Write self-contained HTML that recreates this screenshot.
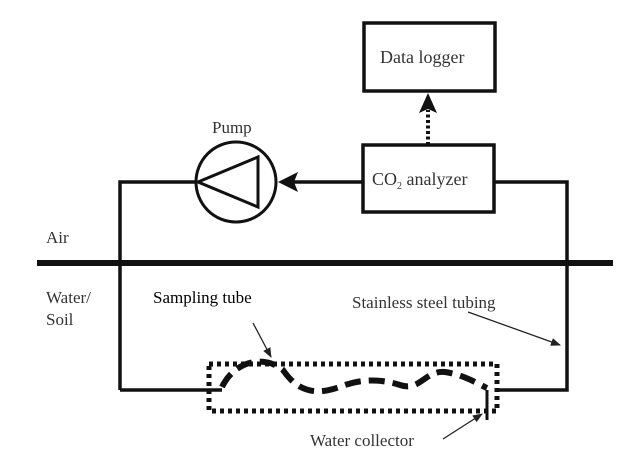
<!DOCTYPE html>
<html><head><style>body{margin:0;background:#fff}svg{display:block}</style></head><body>
<svg width="643" height="466" xmlns="http://www.w3.org/2000/svg" font-family="Liberation Serif, serif">
<defs>
<marker id="a" markerWidth="10" markerHeight="8" refX="9" refY="4" orient="auto" markerUnits="userSpaceOnUse"><path d="M0,0 L10,4 L0,8 Z" fill="#222"/></marker>
</defs>
<g fill="none" stroke="#111" stroke-width="3.5">
<rect x="364" y="23" width="131" height="68"/>
<rect x="363" y="145" width="131" height="67"/>
<circle cx="236" cy="182" r="40" stroke-width="3"/>
<path d="M198,182 L258,157 L258,207 Z" stroke-width="3"/>
<path d="M120,390 L120,182 L196,182"/>
<path d="M362,182 L290,182"/>
<path d="M494,182 L567,182 L567,390 L495,390"/>
<path d="M120,390 L222,390"/>
<path d="M428,145 L428,110" stroke-dasharray="3,2.5" stroke-width="4"/>
<path d="M487,390 L487,420" stroke-width="3"/>
<rect x="209" y="364" width="288" height="47" stroke-dasharray="4,4" stroke-width="5"/>
<path d="M222,387 C235,360 265,355 283,370 C300,395 320,395 345,385 C365,378 385,380 400,385 C420,392 425,370 445,372 C465,375 480,385 487,388" stroke-dasharray="16,8" stroke-width="6"/>
</g>
<path d="M278,182 L298,172 L294,182 L298,192 Z" fill="#111"/>
<path d="M428,93 L419,113 L428,109 L437,113 Z" fill="#111"/>
<rect x="37" y="260" width="576" height="6" fill="#111"/>
<g stroke="#222" stroke-width="1.3" fill="none">
<line x1="253" y1="323" x2="271" y2="357" marker-end="url(#a)"/>
<line x1="468" y1="312" x2="560" y2="345" marker-end="url(#a)"/>
<line x1="443" y1="439" x2="482" y2="414" marker-end="url(#a)"/>
</g>
<g fill="#333" font-size="17">
<text x="380" y="63" font-size="18">Data logger</text>
<text x="372" y="185" font-size="18">CO<tspan font-size="10" dy="4">2</tspan><tspan dy="-4"> analyzer</tspan></text>
<text x="212" y="133">Pump</text>
<text x="46" y="243">Air</text>
<text x="46" y="303">Water/</text>
<text x="46" y="325">Soil</text>
<text x="352" y="308">Stainless steel tubing</text>
<text x="310" y="446">Water collector</text>
</g>
<text x="153" y="303" font-size="17" fill="#000">Sampling tube</text>
</svg>
</body></html>
